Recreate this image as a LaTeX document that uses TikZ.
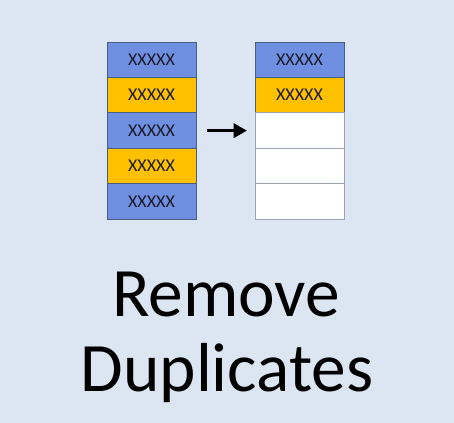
\documentclass[tikz,border=0pt]{standalone}
\usepackage{fontspec}
\setmainfont{Carlito}
\usetikzlibrary{arrows.meta, positioning}
\definecolor{bgblue}{HTML}{DCE6F2}
\definecolor{cellblue}{HTML}{6F8FE0}
\definecolor{cellgold}{HTML}{FFC000}
\definecolor{celledge}{HTML}{4A5F80}
\definecolor{emptyedge}{HTML}{9AA3B0}
\definecolor{celltext}{HTML}{1A1A2A}

\begin{document}
\begin{tikzpicture}[
  x=0.75pt, y=-0.75pt,
  cell/.style={draw=celledge, line width=0.6pt, minimum width=66.75pt, minimum height=26.6pt, inner sep=0pt, outer sep=0pt, text=celltext, font=\fontsize{13.5}{15}\selectfont},
  bluecell/.style={cell, fill=cellblue},
  goldcell/.style={cell, fill=cellgold},
  emptycell/.style={cell, fill=white, draw=emptyedge},
  arr/.style={-{Triangle[length=10pt, width=10.5pt]}, line width=2.8pt},
  node distance=0pt
]

  % Background
  \fill[bgblue] (0,0) rectangle (454,423);

  % Original list
  \node[bluecell] (a1) at (151.5,59.7) {XXXXX};
  \node[goldcell, below=of a1] (a2) {XXXXX};
  \node[bluecell, below=of a2] (a3) {XXXXX};
  \node[goldcell, below=of a3] (a4) {XXXXX};
  \node[bluecell, below=of a4] (a5) {XXXXX};

  % Result list
  \node[bluecell] (b1) at (299.5,59.7) {XXXXX};
  \node[goldcell, below=of b1] (b2) {XXXXX};
  \node[emptycell, below=of b2] (b3) {};
  \node[emptycell, below=of b3] (b4) {};
  \node[emptycell, below=of b4] (b5) {};

  % Arrow
  \draw[arr] ([xshift=8.5pt]a3.east) -- ([xshift=-6pt]b3.west);

  % Title
  \node[font=\fontsize{52}{56}\selectfont, anchor=base] (title1) at (226,317) {Remove};
  \node[font=\fontsize{52}{56}\selectfont, anchor=base] (title2) at (227,392) {Duplicates};

\end{tikzpicture}
\end{document}
